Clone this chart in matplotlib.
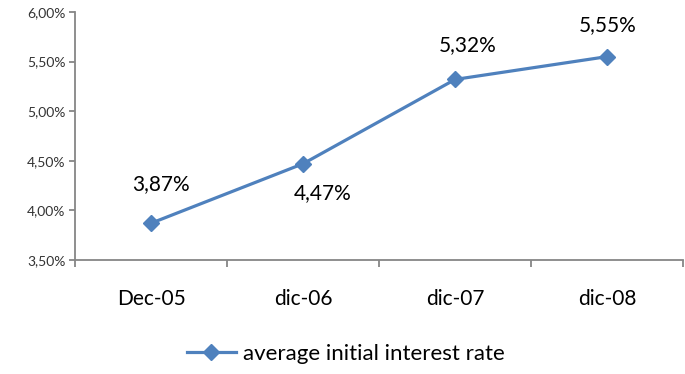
import numpy as np
import matplotlib.pyplot as plt
from matplotlib.ticker import FuncFormatter, FixedLocator

# Dati del grafico
categories = ['Dec-05', 'dic-06', 'dic-07', 'dic-08']
rates = [3.87, 4.47, 5.32, 5.55]
labels = ['3,87%', '4,47%', '5,32%', '5,55%']
series_name = 'average initial interest rate'

plt.rcParams['font.family'] = ['Lato', 'DejaVu Sans']
blue = '#4F81BD'
grey = '#868686'

fig = plt.figure(figsize=(6.85, 3.74), dpi=100)
ax = fig.add_axes([0.1095, 0.305, 0.888, 0.663])

x = np.arange(len(categories))
ax.plot(x, rates, color=blue, lw=2.3, marker='D', ms=8.5, label=series_name)

# etichette dei valori
offsets = [(7, 28), (14, -21), (9, 25), (0, 23)]
for xi, yi, lab, off in zip(x, rates, labels, offsets):
    ax.annotate(lab, (xi, yi), xytext=off, textcoords='offset points',
                ha='center', va='center', fontsize=15)

ax.set_xlim(-0.5, len(categories) - 0.5)
ax.set_ylim(3.5, 6.0)
ax.set_yticks(np.arange(3.5, 6.01, 0.5))
ax.yaxis.set_major_formatter(FuncFormatter(lambda v, p: f'{v:.2f}%'.replace('.', ',')))
ax.set_xticks(x)
ax.set_xticklabels(categories, fontsize=15)
ax.xaxis.set_minor_locator(FixedLocator(np.arange(-0.5, len(categories), 1.0)))
ax.tick_params(axis='x', which='major', length=0, pad=21)
ax.tick_params(axis='x', which='minor', length=5, color=grey, width=1.3)
ax.tick_params(axis='y', length=4, color=grey, width=1.3, labelsize=10, pad=3)
ax.tick_params(axis='y', labelcolor='#333333')
ax.tick_params(axis='x', labelcolor='black')

for s in ['top', 'right']:
    ax.spines[s].set_visible(False)
for s in ['left', 'bottom']:
    ax.spines[s].set_color(grey)
    ax.spines[s].set_linewidth(1.3)

fig.legend(loc='lower center', bbox_to_anchor=(0.505, -0.027), frameon=False,
           fontsize=16, handlelength=2.2, handletextpad=0.35)

fig.savefig('out.png', dpi=100)
